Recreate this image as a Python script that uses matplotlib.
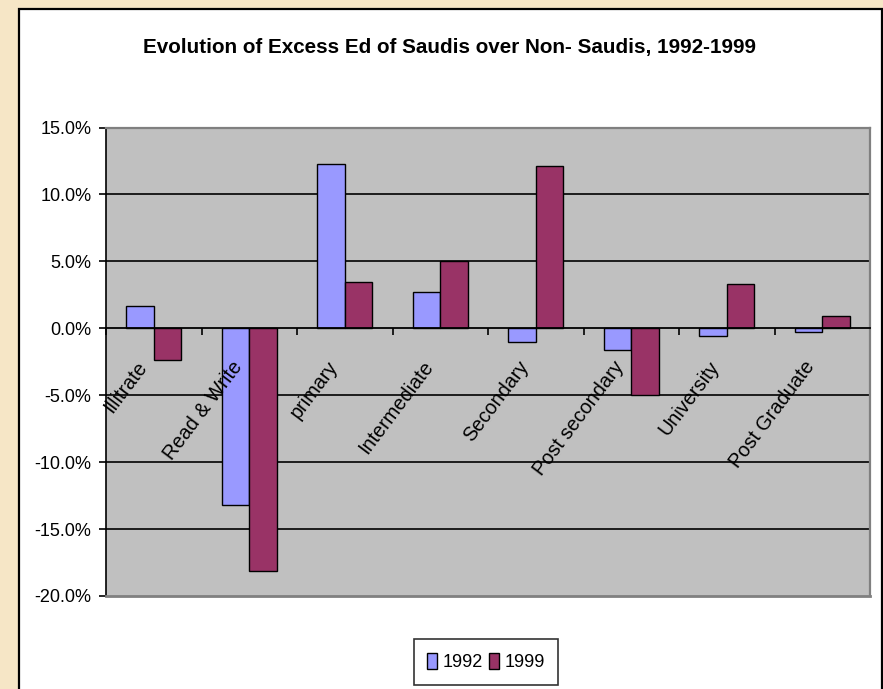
import matplotlib
matplotlib.use("Agg")
import matplotlib.pyplot as plt
import matplotlib.patches as mpatches
import matplotlib.transforms as mtransforms
import numpy as np

categories = ["Illitrate", "Read & Write", "primary", "Intermediate", "Secondary",
              "Post secondary", "University", "Post Graduate"]
values_1992 = [1.7, -13.2, 12.3, 2.7, -1.0, -1.6, -0.55, -0.25]
values_1999 = [-2.4, -18.1, 3.45, 5.0, 12.15, -4.95, 3.3, 0.95]
series_names = ["1992", "1999"]
y_ticks = [-20, -15, -10, -5, 0, 5, 10, 15]
title = "Evolution of Excess Ed of Saudis over Non- Saudis, 1992-1999"

plt.rcParams['font.family'] = ['Liberation Sans', 'DejaVu Sans']

W, H = 883, 689
fig = plt.figure(figsize=(W / 100, H / 100), dpi=100, facecolor='#F6E6C6')

# white chart box
box = mpatches.Rectangle((19 / W, -0.05), (882 - 19) / W, 1 - 9 / H + 0.05,
                         transform=fig.transFigure, facecolor='white',
                         edgecolor='black', linewidth=1.6, zorder=-10)
fig.patches.append(box)

ax = fig.add_axes([106 / W, 1 - 596 / H, (870 - 106) / W, (596 - 127.5) / H])
ax.set_zorder(1)
ax.set_facecolor('#C0C0C0')

x = np.arange(len(categories))
bw = 1 / 3.5
ax.bar(x - bw / 2, values_1992, width=bw, color='#9999FF', edgecolor='black',
       linewidth=1.0, zorder=3, label=series_names[0])
ax.bar(x + bw / 2, values_1999, width=bw, color='#993366', edgecolor='black',
       linewidth=1.0, zorder=3, label=series_names[1])

ax.set_xlim(-0.5, len(categories) - 0.5)
ax.set_ylim(y_ticks[0], y_ticks[-1])

# gridlines
for v in y_ticks[1:-1]:
    if v != 0:
        ax.axhline(v, color='black', linewidth=1.2, zorder=1)

# spines
for s in ['top', 'right']:
    ax.spines[s].set_color('#808080')
    ax.spines[s].set_linewidth(1.6)
ax.spines['left'].set_color('black')
ax.spines['left'].set_linewidth(1.2)
ax.spines['bottom'].set_position(('data', 0))
ax.spines['bottom'].set_color('black')
ax.spines['bottom'].set_linewidth(1.3)
ax.spines['bottom'].set_zorder(4)
ax.axhline(y_ticks[0], color='#808080', linewidth=2.0, zorder=4, clip_on=False)

ax.set_yticks(y_ticks)
ax.set_yticklabels([f"{v:.1f}%" for v in y_ticks], fontsize=13)
ax.tick_params(axis='y', direction='out', length=5, width=1.2, pad=5.5, colors='black')
ax.set_xticks(np.arange(len(categories) + 1) - 0.5)
ax.set_xticklabels([])
ax.tick_params(axis='x', direction='out', length=5, width=1.2)

off = mtransforms.offset_copy(ax.transData, fig=fig, x=-11, y=-35, units='dots')
for i, c in enumerate(categories):
    ax.text(i, 0, c, transform=off, rotation=53, rotation_mode='anchor',
            ha='right', va='center', fontsize=14.3, zorder=5)

fig.text(0.5085, 1 - 47 / H, title, ha='center', va='center', fontsize=14.85,
         fontweight='bold')

handles = [mpatches.Patch(facecolor='#9999FF', edgecolor='black', linewidth=1.0),
           mpatches.Patch(facecolor='#993366', edgecolor='black', linewidth=1.0)]
leg = fig.legend(handles, series_names, loc='center', bbox_to_anchor=(486 / W, 1 - 662 / H),
                 ncol=2, frameon=True, fancybox=False, edgecolor='black',
                 fontsize=13, handlelength=0.55, handleheight=1.0, handletextpad=0.3,
                 columnspacing=0.35, borderpad=0.75, borderaxespad=0)
leg.get_frame().set_linewidth(1.2)

fig.savefig("out.png", dpi=100, facecolor=fig.get_facecolor())
